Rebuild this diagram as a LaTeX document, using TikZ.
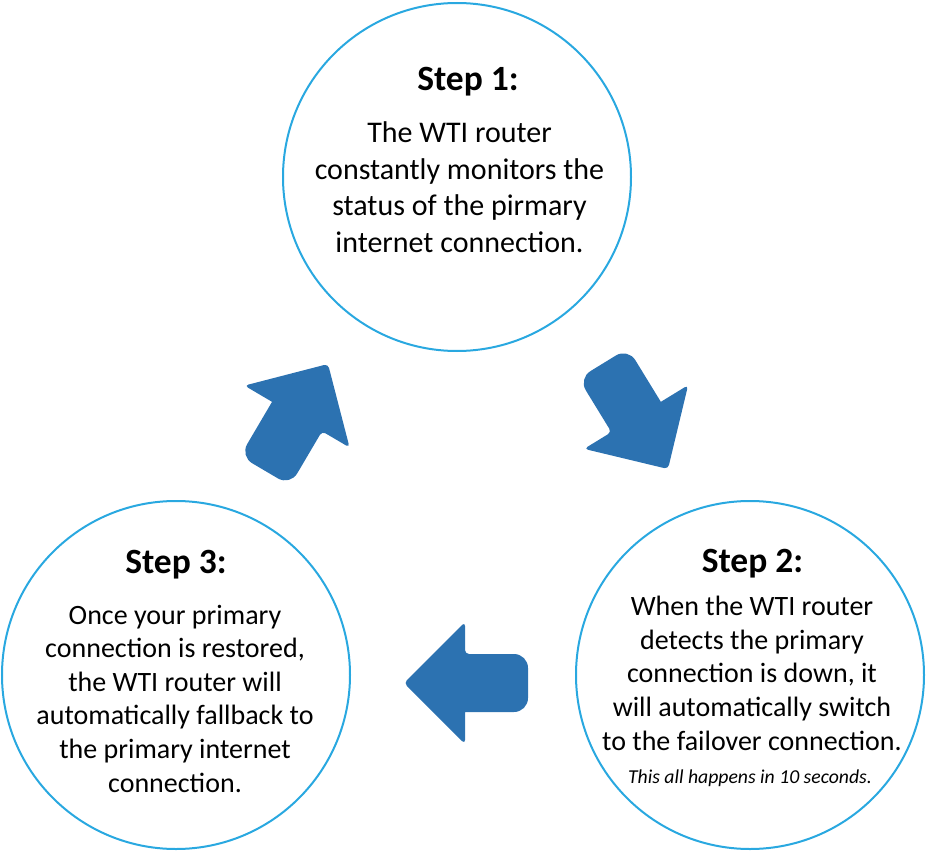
\documentclass[tikz,border=0pt]{standalone}
\usepackage{fontspec}
\setmainfont{Carlito}
\definecolor{ringblue}{RGB}{41,168,224}
\definecolor{arrowblue}{RGB}{44,114,177}
\tikzset{
  ring/.style={circle, draw=ringblue, line width=2pt, minimum size=348pt, inner sep=0pt},
  head/.style={anchor=base, inner sep=0pt, font=\fontsize{35.5}{42}\selectfont\bfseries},
  bodyA/.style={anchor=base, inner sep=0pt, align=center, font=\fontsize{30}{36.5}\selectfont},
  bodyB/.style={anchor=base, inner sep=0pt, align=center, font=\fontsize{28}{33.6}\selectfont},
  note/.style={anchor=base, inner sep=0pt, font=\fontsize{19.7}{24}\selectfont\itshape},
  bigarrow/.pic={
    \fill[arrowblue, rounded corners=4pt]
      (0,0) -- (-61,61) -- (-61,29) [rounded corners=14pt] -- (-124,29) -- (-124,-29)
      [rounded corners=0pt] -- (-61,-29) [rounded corners=4pt] -- (-61,-61) -- cycle;
  }
}
\begin{document}
\begin{tikzpicture}[x=1pt,y=-1pt]
\useasboundingbox (0,0) rectangle (927,851);
% circles
\node[ring] (s1) at (457,177) {};
\node[ring] (s2) at (750,675) {};
\node[ring] (s3) at (176,675) {};
% Step 1
\node[head] (h1) at (468,91) {Step 1:};
\node[bodyA] (t1) at (459.5,252) {The WTI router\\constantly monitors the\\status of the pirmary\\internet connection.};
% Step 2
\node[head] (h2) at (752.5,572) {Step 2:};
\node[bodyB] (t2) at (752,750) {When the WTI router\\detects the primary\\connection is down, it\\will automatically switch\\to the failover connection.};
\node[note] (n2) at (750,783) {This all happens in 10 seconds.};
% Step 3
\node[head] (h3) at (176,573) {Step 3:};
\node[bodyB] (t3) at (175,792) {Once your primary\\connection is restored,\\the WTI router will\\automatically fallback to\\the primary internet\\connection.};
% arrows
\pic[rotate=59.5] at (328,364) {bigarrow};
\pic[rotate=-58.5] at (668,469) {bigarrow};
\pic[rotate=180] at (404,683) {bigarrow};
\end{tikzpicture}
\end{document}
